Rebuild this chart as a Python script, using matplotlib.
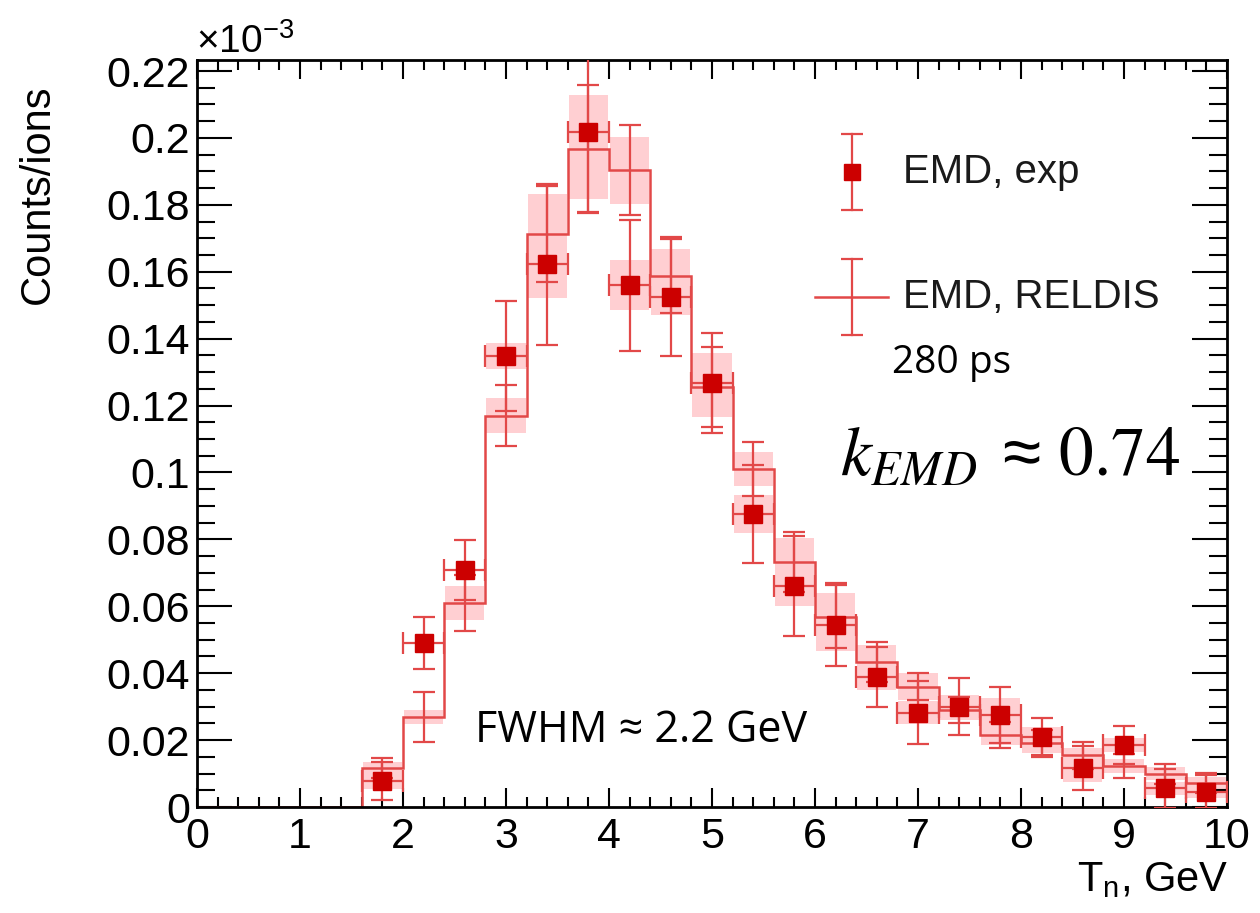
import numpy as np
import matplotlib
matplotlib.use("Agg")
import matplotlib.pyplot as plt
from matplotlib.ticker import FixedLocator, MultipleLocator, FuncFormatter

# ---------------- data (values in units of 1e-3) ----------------
bin_centers = [1.8, 2.2, 2.6, 3.0, 3.4, 3.8, 4.2, 4.6, 5.0, 5.4, 5.8,
               6.2, 6.6, 7.0, 7.4, 7.8, 8.2, 8.6, 9.0, 9.4, 9.8]
bin_halfwidth = 0.2

exp_values = [0.0078, 0.0490, 0.0709, 0.1348, 0.1622, 0.2019, 0.1560, 0.1526,
              0.1267, 0.0875, 0.0661, 0.0545, 0.0389, 0.0282, 0.0300, 0.0275,
              0.0210, 0.0116, 0.0185, 0.0056, 0.0046]
exp_errors = [0.0057, 0.0078, 0.0090, 0.0165, 0.0240, 0.0240, 0.0196, 0.0177,
              0.0150, 0.0146, 0.0150, 0.0125, 0.0090, 0.0095, 0.0085, 0.0085,
              0.0056, 0.0065, 0.0056, 0.0058, 0.0050]
exp_sys = [0.0025, 0.0, 0.0, 0.0040, 0.0100, 0.0110, 0.0075, 0.0055,
           0.0090, 0.0057, 0.0060, 0.0080, 0.0040, 0.0035, 0.0035, 0.0050,
           0.0030, 0.0040, 0.0020, 0.0020, 0.0020]

reldis_edges = [0.0, 0.4, 0.8, 1.2, 1.6, 2.0, 2.4, 2.8, 3.2, 3.6, 4.0, 4.4, 4.8,
                5.2, 5.6, 6.0, 6.4, 6.8, 7.2, 7.6, 8.0, 8.4, 8.8, 9.2, 9.6, 10.0]
reldis_zero_bins = [0.0, 0.0, 0.0, 0.0]
reldis_values = [0.0116, 0.0269, 0.0610, 0.1170, 0.1713, 0.1967, 0.1904, 0.1588,
                 0.1256, 0.1010, 0.0733, 0.0569, 0.0434, 0.0360, 0.0290, 0.0215,
                 0.0190, 0.0155, 0.0123, 0.0100, 0.0071]
reldis_errors = [0.0030, 0.0075, 0.0085, 0.0092, 0.0143, 0.0190, 0.0134, 0.0110,
                 0.0120, 0.0080, 0.0090, 0.0095, 0.0060, 0.0040, 0.0040, 0.0040,
                 0.0040, 0.0040, 0.0035, 0.0030, 0.0030]
reldis_sys = [0.0020, 0.0020, 0.0052, 0.0052, 0.0120, 0.0150, 0.0100, 0.0080,
              0.0090, 0.0050, 0.0070, 0.0070, 0.0050, 0.0040, 0.0030, 0.0030,
              0.0030, 0.0020, 0.0020, 0.0020, 0.0020]

x_ticks = [0, 1, 2, 3, 4, 5, 6, 7, 8, 9, 10]
y_ticks = [0, 0.02, 0.04, 0.06, 0.08, 0.10, 0.12, 0.14, 0.16, 0.18, 0.20, 0.22]

# ---------------- style ----------------
plt.rcParams['font.family'] = ['Liberation Sans', 'DejaVu Sans']
plt.rcParams['mathtext.default'] = 'regular'

W, H = 1260, 913
L, R, T, B = 197, 1227, 60, 807
RED_LINE = '#E24848'
RED_MARK = '#CC0000'
PINK = '#FFCFD2'

fig = plt.figure(figsize=(W / 100, H / 100), dpi=100)
ax = fig.add_axes([L / W, 1 - B / H, (R - L) / W, (B - T) / H])
ax.set_xlim(0, 10)
ax.set_ylim(0, 0.2233)

# systematic boxes
ax.bar(bin_centers, [2 * s for s in reldis_sys],
       bottom=[v - s for v, s in zip(reldis_values, reldis_sys)],
       width=0.38, color=PINK, linewidth=0, zorder=1)
ax.bar(bin_centers, [2 * s for s in exp_sys],
       bottom=[v - s for v, s in zip(exp_values, exp_sys)],
       width=0.38, color=PINK, linewidth=0, zorder=1)

# RELDIS histogram
ax.stairs(reldis_zero_bins + reldis_values, reldis_edges, baseline=None,
          color=RED_LINE, linewidth=1.8, zorder=2)
ax.errorbar(bin_centers, reldis_values, yerr=reldis_errors, fmt='none',
            ecolor=RED_LINE, elinewidth=1.6, capsize=8, capthick=1.6, zorder=3)

# experimental points
ax.errorbar(bin_centers, exp_values, yerr=exp_errors,
            xerr=[bin_halfwidth] * len(bin_centers), fmt='s',
            color=RED_MARK, markersize=12.5, ecolor=RED_LINE, elinewidth=1.6,
            capsize=8, capthick=1.6, zorder=4)

# axes cosmetics (ROOT-like)
for sp in ax.spines.values():
    sp.set_linewidth(2)
ax.xaxis.set_major_locator(FixedLocator(x_ticks))
ax.xaxis.set_minor_locator(MultipleLocator(0.2))
ax.yaxis.set_major_locator(FixedLocator(y_ticks))
ax.yaxis.set_minor_locator(MultipleLocator(0.005))
ax.yaxis.set_major_formatter(FuncFormatter(lambda v, p: '%g' % round(v, 3)))
ax.tick_params(which='both', direction='in', top=True, right=True, width=1.5,
               colors='black', labelsize=31)
ax.tick_params(axis='x', which='major', length=14, pad=7)
ax.tick_params(axis='x', which='minor', length=7)
ax.tick_params(axis='y', which='major', length=25, pad=5)
ax.tick_params(axis='y', which='minor', length=13)

# axis titles
fig.text(38 / W, 1 - 194 / H, 'Counts/ions', rotation=90, ha='center',
         va='center', fontsize=30)
fig.text(1228 / W, 1 - 880 / H, r'T$_{n}$, GeV', ha='right', va='center',
         fontsize=30)
fig.text(196 / W, 1 - 53 / H, r'×10$^{-3}$', ha='left', va='baseline',
         fontsize=28)

# manual legend (axes-fraction coordinates derived from pixel layout)
def ax_xy(px, py):
    return (px - L) / (R - L), (B - py) / (B - T)

lx, ly1 = ax_xy(852, 172)
_, ly1t = ax_xy(852, 134)
_, ly1b = ax_xy(852, 210)
ax.plot([lx, lx], [ly1b, ly1t], color=RED_LINE, lw=1.6,
        transform=ax.transAxes, clip_on=False, zorder=5)
ax.plot([lx, lx], [ly1b, ly1t], linestyle='none', marker='_', ms=16, mew=1.6,
        color=RED_LINE, transform=ax.transAxes, clip_on=False, zorder=5)
ax.plot([lx], [ly1], linestyle='none', marker='s', ms=12, color=RED_MARK,
        transform=ax.transAxes, clip_on=False, zorder=6)

_, ly2 = ax_xy(852, 297)
_, ly2t = ax_xy(852, 259)
_, ly2b = ax_xy(852, 335)
hx0, _ = ax_xy(815, 297)
hx1, _ = ax_xy(888, 297)
ax.plot([lx, lx], [ly2b, ly2t], color=RED_LINE, lw=1.6,
        transform=ax.transAxes, clip_on=False, zorder=5)
ax.plot([lx, lx], [ly2b, ly2t], linestyle='none', marker='_', ms=16, mew=1.6,
        color=RED_LINE, transform=ax.transAxes, clip_on=False, zorder=5)
ax.plot([hx0, hx1], [ly2, ly2], color=RED_LINE, lw=1.8,
        transform=ax.transAxes, clip_on=False, zorder=5)

fig.text(903 / W, 1 - 172 / H, 'EMD, exp', ha='left', va='center',
         fontsize=29, color='#1a1a1a')
fig.text(903 / W, 1 - 297 / H, 'EMD, RELDIS', ha='left', va='center',
         fontsize=29, color='#1a1a1a')

# annotations
fig.text(892 / W, 1 - 363 / H, '280 ps', ha='left', va='center',
         fontsize=28, family=['Open Sans', 'DejaVu Sans'])
fig.text(475 / W, 1 - 731 / H, 'FWHM ≈ 2.2 GeV', ha='left', va='center',
         fontsize=31, family=['Open Sans', 'DejaVu Sans'])
fig.text(840 / W, 1 - 475 / H,
         r'$\mathit{k}_{\mathit{EMD}}\;\approx\,\mathrm{0.74}$',
         ha='left', va='baseline', fontsize=50, math_fontfamily='stix')

fig.savefig('out.png', dpi=100)
